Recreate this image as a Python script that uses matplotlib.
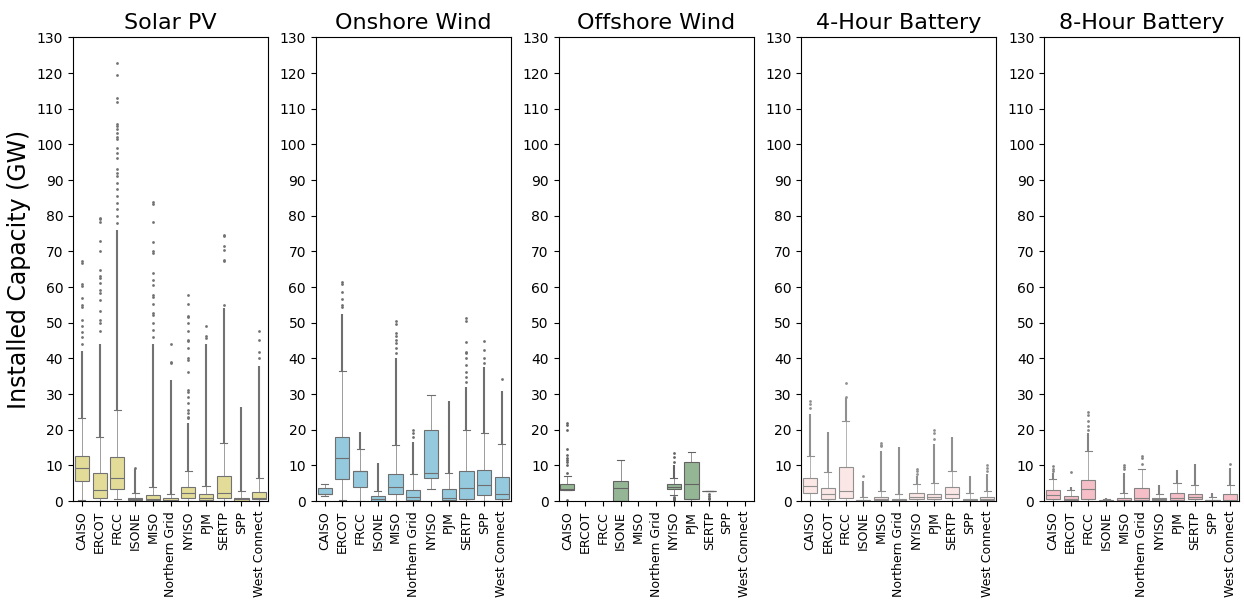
import colorsys
import numpy as np
import matplotlib
matplotlib.use("Agg")
import matplotlib.pyplot as plt
import matplotlib.colors as mcolors

regions = ["CAISO", "ERCOT", "FRCC", "ISONE", "MISO", "Northern Grid",
           "NYISO", "PJM", "SERTP", "SPP", "West Connect"]
titles = ["Solar PV", "Onshore Wind", "Offshore Wind", "4-Hour Battery", "8-Hour Battery"]
base_colors = ["khaki", "skyblue", "darkseagreen", "mistyrose", "lightpink"]

nan = np.nan

# ---- Solar PV
solar_lo = [0.2, 0, 0.5, 0, 0, 0, 0, 0, 0, 0, 0]
solar_q1 = [5.7, 1.0, 3.4, 0.2, 0.2, 0.1, 0.75, 0.3, 0.8, 0.1, 0.5]
solar_med = [9.4, 3.1, 6.6, 0.5, 0.7, 0.3, 2.2, 1.0, 2.2, 0.5, 0.9]
solar_q3 = [12.7, 7.8, 12.3, 1.0, 1.7, 0.75, 4.0, 1.9, 7.1, 1.0, 2.6]
solar_hi = [23.4, 17.9, 25.4, 2.2, 4.0, 2.0, 8.5, 4.2, 16.4, 2.7, 6.4]
solar_dense = [(23.4, 42), (17.9, 44), (25.4, 76), (2.2, 9.0), (4.0, 44), (2.0, 34),
               (8.5, 22), (4.2, 44), (16.4, 54), (2.7, 26.5), (6.4, 38)]
solar_fliers = [
    [44, 46, 47.5, 49, 50.7, 54.4, 54.9, 56.8, 60.2, 60.8, 66.8, 67.2],
    [47.6, 49.9, 50.8, 53.4, 56.5, 58.3, 59.3, 61.1, 62.5, 63.0, 64.9, 70.0, 73.0, 78.3, 79.0, 79.4],
    [78, 79.9, 81.8, 83.6, 85.5, 87.4, 89.2, 91.1, 92, 93, 96.3, 97.7, 99.1, 101.4, 102.2,
     103.3, 104.2, 105.2, 105.8, 111.9, 113.1, 119.5, 122.7],
    [9.4],
    [46, 48, 49.9, 52.2, 52.7, 55.3, 57.2, 57.7, 60.7, 61.9, 63.9, 69.6, 70.0, 72.7, 78.3, 83.4, 83.9],
    [38.7, 39.1, 44.0],
    [23.2, 23.7, 24.6, 25.6, 27.4, 29.3, 30.7, 31.2, 36.3, 39.6, 40.1, 42.9, 44.8, 45.2,
     47.6, 49.9, 51.6, 52.0, 55.3, 57.7],
    [45.7, 46.4, 49.2],
    [55.1, 67.2, 67.7, 70.5, 71.4, 74.3, 74.7],
    [],
    [40.1, 41.9, 45.2, 47.8],
]

# ---- Onshore Wind
onshore_lo = [1.5, 0.2, 0, 0, 0, 0, 3.5, 0, 0, 0, 0]
onshore_q1 = [1.9, 6.1, 3.9, 0.1, 2.1, 0.2, 6.6, 0.2, 0.7, 1.8, 0.7]
onshore_med = [1.9, 12.0, 8.3, 0.6, 4.0, 1.1, 7.9, 0.9, 3.7, 4.4, 2.1]
onshore_q3 = [3.8, 18.1, 8.5, 1.4, 7.5, 3.1, 19.9, 3.4, 8.4, 8.7, 6.7]
onshore_hi = [4.7, 36.6, 14.6, 2.8, 15.7, 7.5, 29.7, 8.0, 19.9, 19.0, 15.9]
onshore_dense = [None, (36.6, 52.5), (14.6, 19.4), (2.8, 10.7), (15.7, 40), (7.5, 16.5),
                 None, (8.0, 28), (19.9, 32), (19.0, 37.5), (15.9, 31)]
onshore_fliers = [
    [], [54.4, 55.1, 56.6, 58.5, 60.9, 61.4], [], [],
    [41.5, 42.9, 44.3, 45.2, 46.2, 47.1, 49.7, 50.4],
    [18.1, 19.2, 19.9], [], [],
    [33.5, 34.9, 36.3, 38.2, 40.1, 41.5, 41.9, 44.5, 50.4, 51.3],
    [38.7, 40.0, 42.4, 45.0],
    [34.2],
]

# ---- Offshore Wind
offshore_lo = [3.1, nan, nan, 0, nan, nan, 1.7, 0, 2.8, nan, nan]
offshore_q1 = [3.1, nan, nan, 0, nan, nan, 3.5, 0.7, 2.8, nan, nan]
offshore_med = [3.3, nan, nan, 3.6, nan, nan, 4.0, 4.7, 2.8, nan, nan]
offshore_q3 = [4.7, nan, nan, 5.7, nan, nan, 4.7, 11.0, 2.8, nan, nan]
offshore_hi = [6.9, nan, nan, 11.5, nan, nan, 6.6, 13.9, 2.8, nan, nan]
offshore_dense = [None, None, None, None, None, None, (6.6, 10.0), None, None, None, None]
offshore_fliers = [
    [0.3, 7.8, 10.2, 11.0, 11.6, 12.2, 12.9, 14.7, 19.9, 21.2, 22.0],
    [], [], [], [], [],
    [0.3, 0.6, 0.9, 1.2, 11.0, 12.5, 13.5],
    [], [0.5, 1.0, 1.5, 1.9], [], [],
]

# ---- 4-Hour Battery
bat4_lo = [0] * 11
bat4_q1 = [2.4, 0.7, 1.0, 0.1, 0.2, 0.1, 0.7, 0.7, 0.9, 0.2, 0.3]
bat4_med = [4.2, 2.0, 2.7, 0.2, 0.6, 0.3, 1.2, 1.2, 2.0, 0.4, 0.6]
bat4_q3 = [6.4, 3.6, 9.6, 0.3, 1.2, 0.7, 2.3, 2.1, 4.0, 0.7, 1.2]
bat4_hi = [12.6, 8.1, 22.5, 1.2, 2.9, 2.0, 4.8, 5.2, 8.5, 2.2, 2.8]
bat4_dense = [(12.6, 24.5), (8.1, 19.5), (22.5, 29), (1.2, 5.6), (2.9, 14), (2.0, 15.3),
              (4.8, 7.0), (5.2, 16), (8.5, 18), (2.2, 7.0), (2.8, 7.5)]
bat4_fliers = [
    [26, 27.2, 28.2], [], [29.2, 33], [7.0], [15.5, 15.8, 16.3], [],
    [7.7, 8.3, 8.9], [17.5, 19, 20], [], [], [8.5, 9.3, 10],
]

# ---- 8-Hour Battery
bat8_lo = [0] * 11
bat8_q1 = [0.7, 0.3, 0.6, 0, 0.1, 0.2, 0.3, 0.3, 0.6, 0.1, 0.1]
bat8_med = [1.6, 0.7, 3.3, 0.1, 0.4, 1.0, 0.7, 0.9, 1.1, 0.2, 0.4]
bat8_q3 = [3.0, 1.3, 6.0, 0.3, 1.0, 3.7, 1.0, 2.2, 1.9, 0.4, 2.0]
bat8_hi = [6.2, 3.1, 14.1, 0.5, 2.3, 8.9, 2.0, 5.1, 4.4, 1.2, 4.4]
bat8_dense = [(6.2, 8), (3.1, 4), (14.1, 19), (0.5, 0.9), (2.3, 8), None,
              (2.0, 4.6), (5.1, 8.6), (4.4, 10.5), (1.2, 2.3), (4.4, 9.3)]
bat8_fliers = [
    [8.5, 9.1, 9.7], [8.2], [20, 21, 22.5, 24, 25], [], [9, 9.6, 10.2],
    [10.5, 12, 12.6], [], [], [], [], [10.3],
]

panels = [
    (solar_lo, solar_q1, solar_med, solar_q3, solar_hi, solar_dense, solar_fliers),
    (onshore_lo, onshore_q1, onshore_med, onshore_q3, onshore_hi, onshore_dense, onshore_fliers),
    (offshore_lo, offshore_q1, offshore_med, offshore_q3, offshore_hi, offshore_dense, offshore_fliers),
    (bat4_lo, bat4_q1, bat4_med, bat4_q3, bat4_hi, bat4_dense, bat4_fliers),
    (bat8_lo, bat8_q1, bat8_med, bat8_q3, bat8_hi, bat8_dense, bat8_fliers),
]


def desat(c, prop=0.75):
    r, g, b = mcolors.to_rgb(c)
    h, l, s = colorsys.rgb_to_hls(r, g, b)
    return colorsys.hls_to_rgb(h, l, s * prop)


fig, axes = plt.subplots(1, 5, figsize=(12.44, 6.03), dpi=100)
fig.subplots_adjust(left=0.0587, right=0.996, top=0.938, bottom=0.169, wspace=0.245)

for ax, title, col, data in zip(axes, titles, base_colors, panels):
    lo, q1, med, q3, hi, dense, fliers = data
    face = desat(col)
    lum = colorsys.rgb_to_hls(*mcolors.to_rgb(col))[1] * 0.6
    gray = (lum, lum, lum)

    stats, pos = [], []
    for i in range(len(regions)):
        if np.isnan(q1[i]):
            continue
        stats.append(dict(whislo=lo[i], q1=q1[i], med=med[i], q3=q3[i], whishi=hi[i], fliers=[]))
        pos.append(i)
    ax.bxp(stats, positions=pos, widths=0.8, patch_artist=True, showfliers=False,
           boxprops=dict(facecolor=face, edgecolor=gray, linewidth=0.8),
           medianprops=dict(color=gray, linewidth=0.8),
           whiskerprops=dict(color=gray, linewidth=0.6, alpha=0.8),
           capprops=dict(color=gray, linewidth=0.8))

    for i in range(len(regions)):
        if dense[i] is not None:
            ax.vlines(i, dense[i][0], dense[i][1], color=gray, linewidth=1.5, zorder=1)
        if fliers[i]:
            ax.plot([i] * len(fliers[i]), fliers[i], "o", color=gray, markersize=2,
                    markeredgewidth=0, zorder=1)

    ax.set_xlim(-0.5, len(regions) - 0.5)
    ax.set_ylim(0, 130)
    ax.set_yticks(np.arange(0, 131, 10))
    ax.set_xticks(range(len(regions)))
    ax.set_xticklabels(regions, rotation=90, fontsize=9)
    ax.tick_params(axis="y", labelsize=10)
    ax.set_title(title, fontsize=16)

axes[0].set_ylabel("Installed Capacity (GW)", fontsize=17)

plt.savefig("out.png")
